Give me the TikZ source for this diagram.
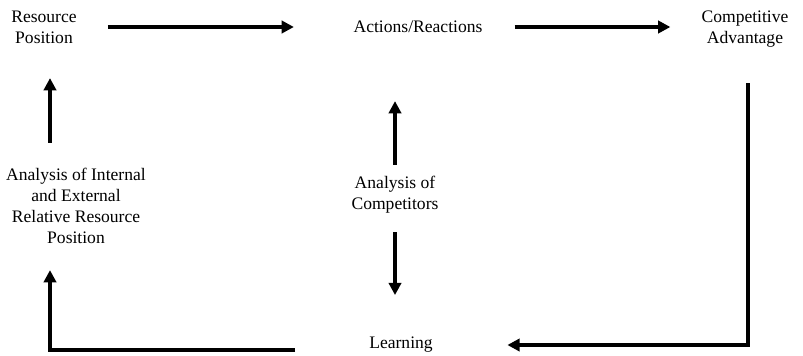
\documentclass[tikz,border=0pt]{standalone}
\usepackage{fontspec}
\setmainfont{Liberation Serif}
\usepackage{tikz}
\usetikzlibrary{arrows.meta}

\tikzset{
    flow/.style={line width=1.9pt, -{Triangle[length=7pt,width=7pt]}},
    label/.style={align=center, font=\fontsize{10}{12}\selectfont}
}

\begin{document}
\begin{tikzpicture}[x=0.02cm, y=-0.02cm]
    \useasboundingbox (0,0) rectangle (803,355);

    \node[label] (respos) at (44,27) {Resource\\Position};
    \node[label] (actions) at (418,27) {Actions/Reactions};
    \node[label] (compadv) at (745,29) {Competitive\\Advantage};
    \node[label] (intext) at (76,206) {Analysis of Internal\\and External\\Relative Resource\\Position};
    \node[label] (rivals) at (395,195) {Analysis of\\Competitors};
    \node[label] (learning) at (401,345) {Learning};

    % corners of the feedback loop
    \coordinate (rtop) at (748,83);
    \coordinate (rbot) at (748,345);
    \coordinate (lbot) at (50,350);

    % top row
    \draw[flow, shorten <=0.5cm, shorten >=1.07cm] (respos) -- (actions);
    \draw[flow, shorten <=0.52cm, shorten >=0.5cm] (actions) -- (compadv.west |- actions);

    % right side down and back to learning
    \draw[flow, shorten >=1.37cm] (rtop) -- (rbot) -- (learning.east |- rbot);

    % learning feeds the resource analysis
    \draw[flow, shorten <=1.36cm, shorten >=0.4cm] (learning.west |- lbot) -- (lbot) -- (intext.south -| lbot);
    \draw[flow, shorten <=0.38cm, shorten >=0.57cm] (intext.north -| lbot) -- (respos.south -| lbot);

    % competitor analysis, up and down
    \draw[flow, shorten <=0.11cm, shorten >=1.24cm] (rivals.north) -- (rivals.north |- actions.south);
    \draw[flow, shorten <=0.25cm, shorten >=0.72cm] (rivals.south) -- (rivals.south |- learning.north);
\end{tikzpicture}
\end{document}
